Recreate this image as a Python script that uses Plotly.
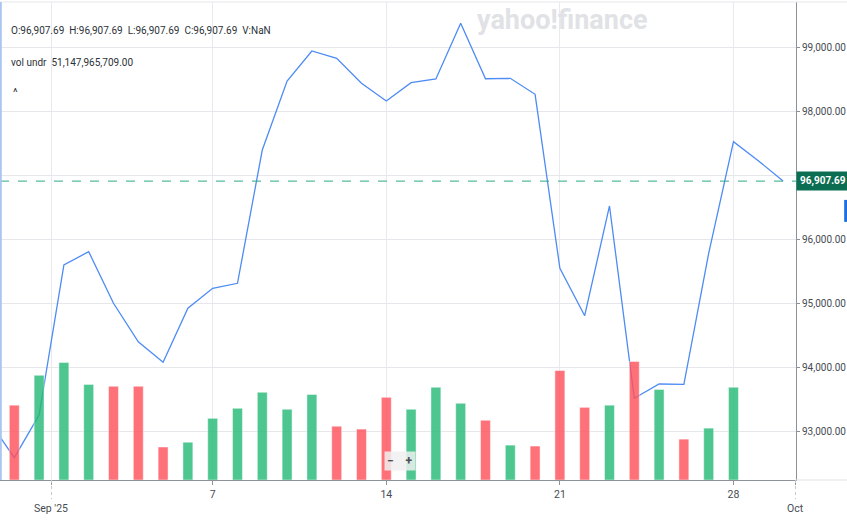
import pandas as pd
import plotly.graph_objs as go

# daily closes, 29 Aug .. 30 Sep 2025
dates = pd.date_range('2025-08-29', '2025-09-30', freq='D')
close = [93159, 92593, 93259, 95599, 95807, 95002, 94402, 94081, 94924, 95236,
         95314, 97393, 98470, 98938, 98824, 98434, 98158, 98443, 98501, 99370,
         98505, 98512, 98262, 95548, 94808, 96520, 93520, 93743, 93738, 95782,
         97523, 97226, 96907.69]
# volume in billions (no bar on the first and the last two days)
volume = [None, 31.3, 43.8, 49.2, 40.0, 39.2, 39.2, 13.8, 15.8, 25.8,
          30.0, 36.7, 29.6, 35.8, 22.5, 21.3, 34.6, 29.6, 38.8, 32.1,
          25.0, 14.6, 14.2, 45.8, 30.4, 31.3, 49.6, 37.9, 17.1, 21.7,
          38.8, None, None]

day_ticks = ['2025-09-07', '2025-09-14', '2025-09-21', '2025-09-28']
day_labels = ['7', '14', '21', '28']
month_ticks = ['2025-08-31 12:00', '2025-09-30 12:00']
month_labels = ["Sep '25", 'Oct']
price_ticks = [93000, 94000, 95000, 96000, 97000, 98000, 99000]

UP = 'rgba(38,186,120,0.82)'
DOWN = 'rgba(255,82,92,0.82)'
bar_colors = [UP]
for i in range(1, len(close)):
    bar_colors.append(UP if close[i] >= close[i - 1] else DOWN)

last = close[-1]
fmt = lambda v: '{:,.2f}'.format(v)
# the label under the price tag is hidden, like on the site
price_text = ['' if abs(v - last) < 300 else fmt(v) for v in price_ticks]
gap = '&nbsp;&nbsp;'

vol_trace = go.Bar(x=dates, y=volume, yaxis='y2', width=0.4 * 86400000,
                   marker=dict(color=bar_colors, line=dict(color='rgba(255,255,255,0.45)', width=1)),
                   hoverinfo='skip')
price_trace = go.Scatter(x=dates, y=close, mode='lines',
                         line=dict(color='#4d8bf5', width=1.3))

layout = go.Layout(
    width=847, height=521,
    margin=dict(l=0, r=51, t=2, b=41),
    paper_bgcolor='white', plot_bgcolor='white',
    showlegend=False,
    font=dict(family='Roboto, Arial, sans-serif', size=10, color='#464c53'),
    xaxis=dict(type='date', range=['2025-08-29 10:10', '2025-09-30 12:30'],
               tickvals=day_ticks + month_ticks, ticktext=day_labels + ['', ''],
               ticks='outside', ticklen=4, tickcolor='#8d9298',
               showgrid=True, gridcolor='#e9eaee', gridwidth=1,
               showline=True, linecolor='#8d9298', linewidth=1,
               zeroline=False, tickfont=dict(size=10.5, color='#464c53')),
    yaxis=dict(side='right', range=[92245, 99702], tickvals=price_ticks, ticktext=price_text,
               ticks='outside', ticklen=3, tickcolor='#8d9298',
               showgrid=True, gridcolor='#e6e7eb', gridwidth=1,
               showline=True, linecolor='#8d9298', linewidth=1,
               zeroline=False, tickfont=dict(size=10, color='#464c53')),
    yaxis2=dict(overlaying='y', range=[0, 200], visible=False, fixedrange=True),
)

fig = go.Figure(data=[vol_trace, price_trace], layout=layout)

# current price line and tag
fig.add_shape(type='line', xref='paper', x0=0, x1=1, yref='y', y0=last, y1=last,
              line=dict(color='#2fa887', width=1, dash='dash'))
fig.add_annotation(xref='paper', x=1, xanchor='left', yref='y', y=last,
                   text='<b>' + fmt(last) + '</b>', showarrow=False,
                   font=dict(size=10, color='white'), bgcolor='#0b6e52', borderpad=3)

# month separators on the time axis
for t, lab in zip(month_ticks, month_labels):
    fig.add_shape(type='line', xref='x', x0=t, x1=t, yref='paper', y0=0, y1=-0.04,
                  line=dict(color='#c4c7cc', width=1, dash='dot'))
    fig.add_annotation(xref='x', x=t, yref='paper', y=-0.0586, yanchor='middle',
                       text=lab, showarrow=False, font=dict(size=10.5, color='#464c53'))

# frame bits
fig.add_shape(type='line', xref='paper', x0=0, x1=1.064, yref='paper', y0=1, y1=1,
              line=dict(color='#e6e7eb', width=1))
fig.add_shape(type='line', xref='paper', x0=1, x1=1.064, yref='paper', y0=0, y1=0,
              line=dict(color='#e0e1e5', width=1))
fig.add_shape(type='line', xref='paper', x0=0.001, x1=0.001, yref='paper', y0=0, y1=1,
              line=dict(color='#a9c5f2', width=2))
fig.add_shape(type='rect', xref='paper', x0=1.0605, x1=1.066, yref='paper', y0=0.54, y1=0.586,
              line=dict(width=0), fillcolor='#1f6fe0')

# watermark
fig.add_annotation(xref='paper', x=0.707, xanchor='center', yref='paper', y=0.962, yanchor='middle',
                   text='<b>yahoo!finance</b>', showarrow=False,
                   font=dict(family='Roboto, Arial, sans-serif', size=27, color='#e1e2e6'))

# legend text top-left
fig.add_annotation(xref='paper', x=0.011, xanchor='left', yref='paper', y=0.941, yanchor='middle',
                   text='O:' + fmt(last) + gap + 'H:' + fmt(last) + gap + 'L:' + fmt(last) +
                        gap + 'C:' + fmt(last) + gap + 'V:NaN',
                   showarrow=False, font=dict(size=10, color='#2c3238'))
fig.add_annotation(xref='paper', x=0.011, xanchor='left', yref='paper', y=0.874, yanchor='middle',
                   text='vol undr' + gap + '51,147,965,709.00',
                   showarrow=False, font=dict(size=10, color='#2c3238'))
fig.add_annotation(xref='paper', x=0.014, xanchor='left', yref='paper', y=0.81, yanchor='middle',
                   text='^', showarrow=False, font=dict(size=11, color='#2c3238'))

# zoom buttons
fig.add_annotation(xref='paper', x=0.5025, yref='paper', y=0.04, yanchor='middle',
                   text='<b>−&nbsp;&nbsp;&nbsp;&nbsp;+</b>', showarrow=False,
                   font=dict(size=12, color='#4a4f55'),
                   bgcolor='rgba(240,240,240,0.85)', borderpad=2)

fig.write_html('out.html', config={'displayModeBar': False},
               post_script="document.body.style.margin='0';")
